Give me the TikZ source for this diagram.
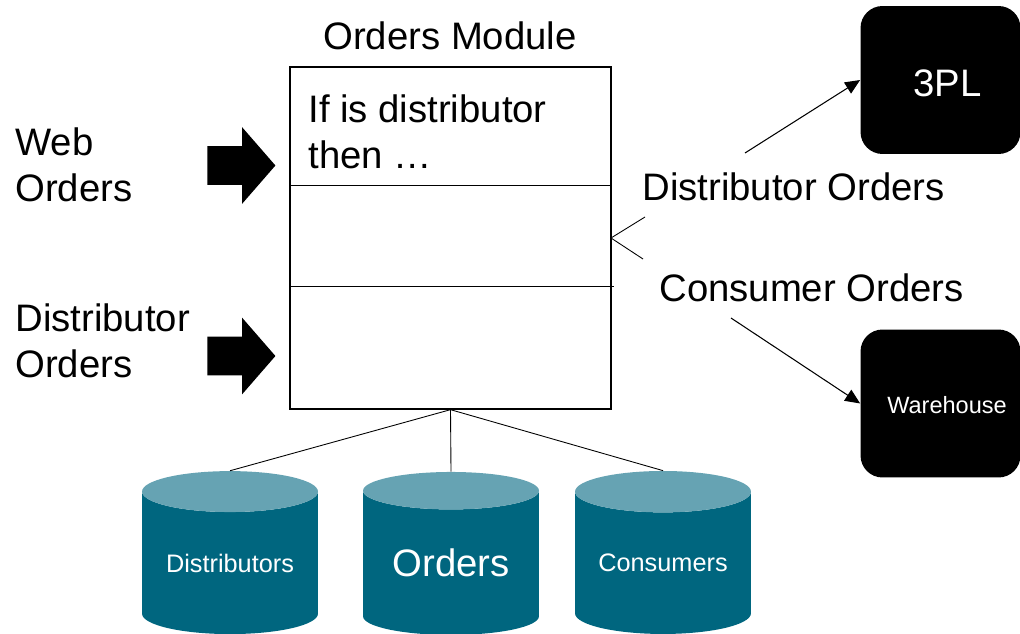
\documentclass[tikz,border=0pt]{standalone}
\usepackage{fontspec}
\setmainfont{Liberation Sans}
\usetikzlibrary{arrows.meta,shapes.geometric,shapes.arrows}
\definecolor{dbbody}{HTML}{00667F}
\definecolor{dbtop}{HTML}{66A3B3}
\tikzset{
	bigtext/.style={inner sep=0pt,align=left,font=\fontsize{21.8}{26}\selectfont},
	dbstore/.style={shape=cylinder,shape border rotate=90,aspect=0.32,cylinder uses custom fill,
		cylinder body fill=dbbody,cylinder end fill=dbtop,minimum width=3.52cm,minimum height=3.26cm,
		inner sep=0pt,text=white},
	blockarrow/.style={shape=single arrow,fill=black,inner xsep=0pt,inner ysep=0.38cm,minimum height=1.36cm,minimum width=1.52cm,
		single arrow head extend=0.38cm,single arrow tip angle=98},
	sinkbox/.style={rectangle,rounded corners=0.44cm,fill=black,minimum width=3.2cm,minimum height=2.96cm},
	thinline/.style={line width=0.5pt},
	flow/.style={line width=0.6pt,-{Triangle[length=0.3cm,width=0.26cm]}}
}
\begin{document}
\begin{tikzpicture}[x=0.02cm,y=-0.02cm]
			\useasboundingbox (0,0) rectangle (1020,634);
			\node[draw,line width=0.8pt,minimum width=6.42cm,minimum height=6.84cm,inner sep=0pt] (module) at (450.5,238) {};
			\coordinate (split) at (611,238);
			\node[bigtext] (moduletitle) at (450,36) {Orders Module};
			\node[bigtext,anchor=west] (rule) at (308,132) {If is distributor\\then …};
			\draw[thinline] (290,185) -- (611,185);
			\draw[thinline] (290,286) -- (614,286);
			\node[bigtext,anchor=west] (web) at (15,165) {Web\\Orders};
			\node[bigtext,anchor=west] (distributor) at (15,341) {Distributor\\Orders};
			\node[blockarrow] (webarrow) at (233,165.5) {};
			\node[blockarrow] (distributorarrow) at (233,356) {};
			\node[sinkbox] (tpl) at (940.5,80) {};
			\node[sinkbox] (warehouse) at (940.5,403.5) {};
			\node[text=white,font=\fontsize{21.8}{26}\selectfont] (tpllabel) at (947.5,83) {3PL};
			\node[text=white,font=\fontsize{13.4}{16}\selectfont] (warehouselabel) at (947,405) {Warehouse};
			\node[bigtext,anchor=west] (distributororders) at (642,187) {Distributor Orders};
			\node[bigtext,anchor=west] (consumerorders) at (659,288) {Consumer Orders};
			\coordinate (upper) at (645,217);
			\coordinate (lower) at (643,259);
			\coordinate (tplstart) at (745,153);
			\coordinate (warehousestart) at (731,318);
			\draw[thinline] (upper) -- (split) -- (lower);
			\draw[flow] (tplstart) -- (tpl.west);
			\draw[flow] (warehousestart) -- (warehouse.west);
			\node[dbstore,font=\fontsize{14.4}{17}\selectfont] (distributors) at (230,563) {Distributors};
			\node[dbstore,font=\fontsize{21.8}{26}\selectfont] (orders) at (451,563) {Orders};
			\node[dbstore,font=\fontsize{14.4}{17}\selectfont] (consumers) at (663,563) {Consumers};
			\draw[thinline] (module.south) -- (distributors.north);
			\draw[thinline] (module.south) -- (orders.north);
			\draw[thinline] (module.south) -- (consumers.north);
	\end{tikzpicture}
\end{document}
